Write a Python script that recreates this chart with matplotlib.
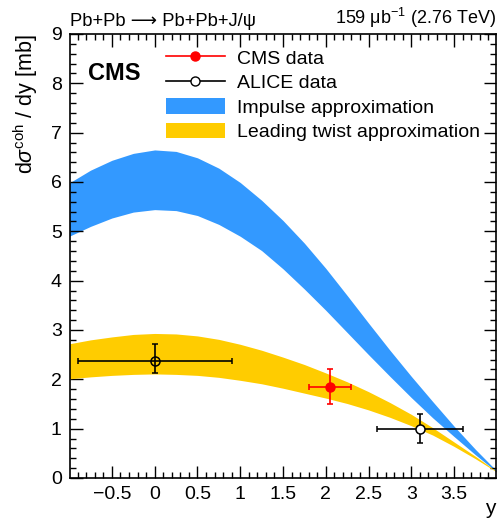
import numpy as np
import matplotlib
matplotlib.use("Agg")
import matplotlib.pyplot as plt
from matplotlib.lines import Line2D
from matplotlib.patches import Patch
from matplotlib.ticker import MultipleLocator

plt.rcParams['font.family'] = ['Liberation Sans', 'DejaVu Sans']
plt.rcParams['mathtext.fontset'] = 'custom'
plt.rcParams['mathtext.rm'] = 'Liberation Sans'
plt.rcParams['mathtext.it'] = 'Liberation Sans:italic'

# theory bands (rapidity grid)
y_grid = [-1.0, -0.75, -0.5, -0.25, 0.0, 0.25, 0.5, 0.75, 1.0, 1.25, 1.5,
          1.75, 2.0, 2.25, 2.5, 2.75, 3.0, 3.25, 3.5, 3.75, 4.0]
impulse_hi = [5.98, 6.24, 6.44, 6.58, 6.65, 6.62, 6.49, 6.28, 5.99, 5.63, 5.22,
              4.76, 4.25, 3.70, 3.14, 2.59, 2.06, 1.55, 1.05, 0.58, 0.14]
impulse_lo = [4.90, 5.10, 5.27, 5.39, 5.44, 5.42, 5.32, 5.14, 4.90, 4.61, 4.24,
              3.83, 3.40, 2.95, 2.50, 2.06, 1.63, 1.22, 0.84, 0.47, 0.12]
twist_hi = [2.72, 2.80, 2.86, 2.91, 2.93, 2.92, 2.88, 2.81, 2.71, 2.59, 2.45,
            2.30, 2.13, 1.95, 1.75, 1.53, 1.29, 1.02, 0.73, 0.44, 0.13]
twist_lo = [2.01, 2.05, 2.08, 2.10, 2.11, 2.10, 2.08, 2.04, 1.98, 1.91, 1.82,
            1.72, 1.62, 1.51, 1.38, 1.23, 1.06, 0.87, 0.64, 0.39, 0.12]

# measurements
cms_y = [2.05]
cms_val = [1.85]
cms_xerr = [0.25]
cms_yerr = [0.35]

alice_y = [0.0, 3.1]
alice_val = [2.38, 1.0]
alice_xerr = [0.9, 0.5]
alice_yerr_lo = [0.25, 0.3]
alice_yerr_hi = [0.34, 0.3]

blue = "#3399ff"
yellow = "#ffcc00"

fig = plt.figure(figsize=(4.99, 5.19), dpi=100)
ax = fig.add_axes([70 / 499, 41 / 519, 426 / 499, 444 / 519])

ax.fill_between(y_grid, impulse_lo, impulse_hi, color=blue, lw=0, zorder=1)
ax.fill_between(y_grid, twist_lo, twist_hi, color=yellow, lw=0, zorder=2)

eb_style = dict(fmt='o', ms=6.5, elinewidth=1.2, capsize=2, capthick=1.2)
ax.errorbar(alice_y[:1], alice_val[:1], xerr=alice_xerr[:1],
            yerr=[alice_yerr_lo[:1], alice_yerr_hi[:1]], color='black',
            mfc='none', mec='black', mew=1.1, zorder=5, **eb_style)
ax.errorbar(alice_y[1:], alice_val[1:], xerr=alice_xerr[1:],
            yerr=[alice_yerr_lo[1:], alice_yerr_hi[1:]], color='black',
            mfc='white', mec='black', mew=1.1, zorder=5, **eb_style)
ax.errorbar(cms_y, cms_val, xerr=cms_xerr, yerr=cms_yerr, color='red', zorder=6, **eb_style)

ax.set_xlim(-0.99, 3.99)
ax.set_ylim(0, 9)
ax.xaxis.set_minor_locator(MultipleLocator(0.1))
ax.yaxis.set_major_locator(MultipleLocator(1))
ax.yaxis.set_minor_locator(MultipleLocator(0.2))
ax.set_xticks([-0.5, 0, 0.5, 1, 1.5, 2, 2.5, 3, 3.5])
ax.set_xticklabels(["\u22120.5", "0", "0.5", "1", "1.5", "2", "2.5", "3", "3.5"])
ax.tick_params(which='both', direction='in', top=True, right=True, labelsize=14, width=1)
ax.tick_params(which='major', length=9, pad=6)
ax.tick_params(which='minor', length=4.5)
for s in ax.spines.values():
    s.set_linewidth(1.2)

ax.set_xlabel("y", fontsize=15, loc='right', labelpad=-3)
ax.set_ylabel(r"d$\sigma^{\mathrm{coh}}$ / dy [mb]", fontsize=15.5, loc='top', labelpad=8)

ax.text(0, 1.008, "Pb+Pb \u27f6 Pb+Pb+J/\u03c8", transform=ax.transAxes,
        ha='left', va='bottom', fontsize=13.2)
ax.text(1, 1.008, "159 \u03bcb$^{-1}$ (2.76 TeV)", transform=ax.transAxes,
        ha='right', va='bottom', fontsize=13)
ax.text(0.042, 0.938, "CMS", transform=ax.transAxes, ha='left', va='top',
        fontsize=17, fontweight='bold')

handles = [
    Line2D([], [], color='red', marker='o', ms=6.5, lw=1.2),
    Line2D([], [], color='black', marker='o', ms=6.5, mfc='white', lw=1.2),
    Patch(facecolor=blue, edgecolor='none'),
    Patch(facecolor=yellow, edgecolor='none'),
]
labels = ["CMS data", "ALICE data", "Impulse approximation", "Leading twist approximation"]
ax.legend(handles, labels, loc='upper left', bbox_to_anchor=(0.225, 0.966),
          frameon=False, fontsize=14, borderpad=0, borderaxespad=0,
          handlelength=3.04, handleheight=0.88, handletextpad=0.62, labelspacing=0.3)

fig.savefig("out.png", dpi=100)
